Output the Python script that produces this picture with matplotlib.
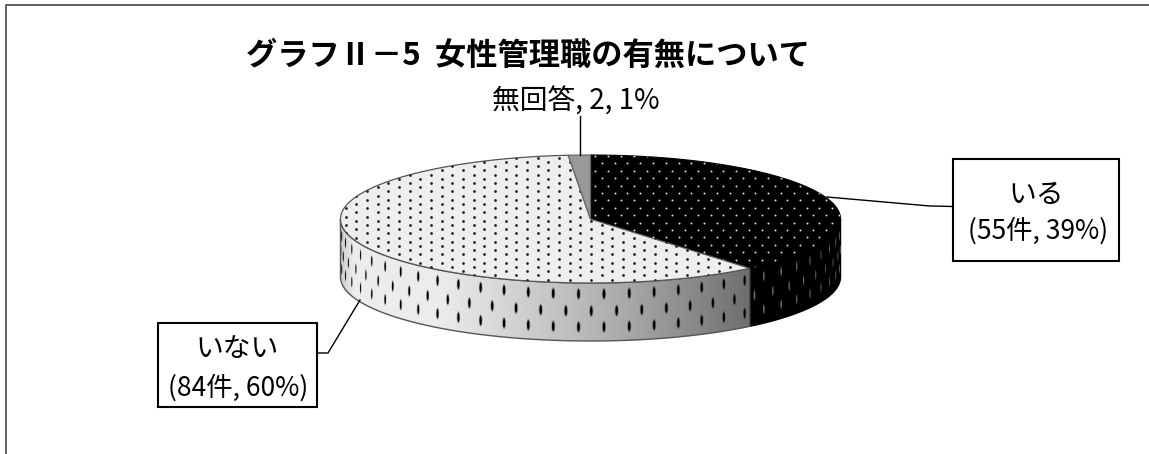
import matplotlib
matplotlib.use('Agg')
import matplotlib.pyplot as plt
import numpy as np
from matplotlib.colors import LinearSegmentedColormap
from matplotlib.patches import Ellipse, Polygon

plt.rcParams['font.family'] = ['Noto Sans CJK JP', 'DejaVu Sans']

title = 'グラフⅡ－5  女性管理職の有無について'
categories = ['いる', '無回答', 'いない']
counts = [55, 2, 84]
percents = [39, 1, 60]

# pie shape in pixels
cx, cy = 590.5, 219
rx, ry = 250, 64
depth = 58


def rim(t):
    # t in degrees, clockwise from 12 o'clock
    t = np.radians(t)
    return cx + rx * np.sin(t), cy - ry * np.cos(t)


def wedge(a, b):
    t = np.linspace(a, b, 200)
    x, y = rim(t)
    return np.r_[[[cx, cy]], np.c_[x, y]]


def side(a, b):
    t = np.linspace(a, b, 200)
    x, y = rim(t)
    return np.r_[np.c_[x, y], np.c_[x[::-1], y[::-1] + depth]]


fig = plt.figure(figsize=(11.49, 4.54), dpi=100)
ax = fig.add_axes([0, 0, 1, 1])
ax.axis('off')

# frame has only top and left edges
ax.plot([5.5, 5.5, 1149], [454, 4.5, 4.5], color='#555555', lw=1.3)

# slices start at the top and run clockwise, with いない wrapping round to 無回答
total = sum(counts)
black_end = 360 * counts[0] / total
light_end = black_end + 360 * counts[2] / total
grey_start = light_end

# side gradient
side_cmap = LinearSegmentedColormap.from_list('side', [
    (0.0, '#cfcfcf'), (0.03, '#ececec'), (0.24, '#ececec'),
    (0.44, '#d0d0d0'), (0.69, '#aaaaaa'), (1.0, '#6e6e6e')])
grad = np.linspace(0, 1, 256).reshape(1, -1)
left_x = rim(270)[0]
right_x = rim(black_end)[0]
img = ax.imshow(grad, cmap=side_cmap, aspect='auto', vmin=0, vmax=1,
                extent=[left_x, right_x, cy + ry + depth, cy - ry], zorder=2)
light_side = Polygon(side(black_end, 270), closed=True, fc='none', ec='#555555', lw=1, zorder=4)
ax.add_patch(light_side)
img.set_clip_path(light_side)
ax.add_patch(Polygon(side(90, black_end), closed=True, fc='black', ec='black', lw=1, zorder=2))

# long dots on the side, thinner towards the ends of the rim
offsets = [11, 28, 44]
step = 5.83
for k, off in enumerate(offsets):
    t = 194.4 + step * np.arange(-18, 14) - (step / 2 if k == 1 else 0)
    t = t[(t > 92) & (t < 268)]
    x, y = rim(t)
    y = y + off
    w = np.maximum(np.abs(np.cos(np.radians(t))), 0.35)
    for xi, yi, wi, ti in zip(x, y, w, t):
        if ti > black_end:
            ax.add_patch(Ellipse((xi, yi), 4.2 * wi, 12.5, fc='black', ec='none', alpha=0.25, zorder=3))
            ax.add_patch(Ellipse((xi, yi), 2.6 * wi, 9.5, fc='black', ec='none', zorder=3))
        else:
            ax.add_patch(Ellipse((xi, yi), 2.4 * wi, 9.5, fc='#666666', ec='none', zorder=3))

# top faces
black_top = Polygon(wedge(0, black_end), closed=True, fc='black', ec='black', lw=0.8, zorder=5)
light_top = Polygon(wedge(black_end, grey_start), closed=True, fc='#eeeeee', ec='#555555', lw=0.9, zorder=5)
grey_top = Polygon(wedge(grey_start, 360), closed=True, fc='#999999', ec='#666666', lw=0.9, zorder=7)
ax.add_patch(black_top)
ax.add_patch(light_top)
ax.add_patch(grey_top)

# dot patterns on the top faces
i, j = np.meshgrid(np.arange(-30, 30), np.arange(-12, 12))
dark_x = (484.3 + 10.67 * i).ravel()
dark_y = (220.7 + 8.4 * j - 4.2 * (i % 2)).ravel()
dots = ax.scatter(dark_x, dark_y, s=4, color='#222222', lw=0, zorder=6)
dots.set_clip_path(light_top)

i, j = np.meshgrid(np.arange(-5, 30), np.arange(-5, 25))
pale_x = (627.3 + 12.8 * i - 6.4 * (j % 2)).ravel()
pale_y = (163.3 + 7.4 * j).ravel()
pale = ax.scatter(pale_x, pale_y, s=2, color='#dddddd', lw=0, zorder=6)
pale.set_clip_path(black_top)

# leader lines
ax.plot([827, 930, 953], [197, 206, 206.5], color='black', lw=1, zorder=8)
ax.plot([317, 328, 360], [353, 353, 300], color='black', lw=1, zorder=8)
ax.plot([580, 580], [116, 155], color='black', lw=1, zorder=8)

# label boxes
ax.add_patch(plt.Rectangle((953, 158.5), 166, 102.5, fc='white', ec='black', lw=1.5, zorder=9))
ax.add_patch(plt.Rectangle((157.5, 323), 159.5, 84, fc='white', ec='black', lw=1.5, zorder=9))

ax.text(528, 56, title, ha='center', va='center', fontsize=22.5, fontweight='bold', zorder=10)
ax.text(576, 102, f'{categories[1]}, {counts[1]}, {percents[1]}%', ha='center', va='center',
        fontsize=20, zorder=10)
ax.text(1036, 195, categories[0], ha='center', va='center', fontsize=20, zorder=10)
ax.text(1038, 231, f'({counts[0]}件, {percents[0]}%)', ha='center', va='center', fontsize=19, zorder=10)
ax.text(237, 349, categories[2], ha='center', va='center', fontsize=20, zorder=10)
ax.text(238, 388, f'({counts[2]}件, {percents[2]}%)', ha='center', va='center', fontsize=19, zorder=10)

ax.set_xlim(0, 1149)
ax.set_ylim(454, 0)

fig.savefig('out.png', dpi=100)
